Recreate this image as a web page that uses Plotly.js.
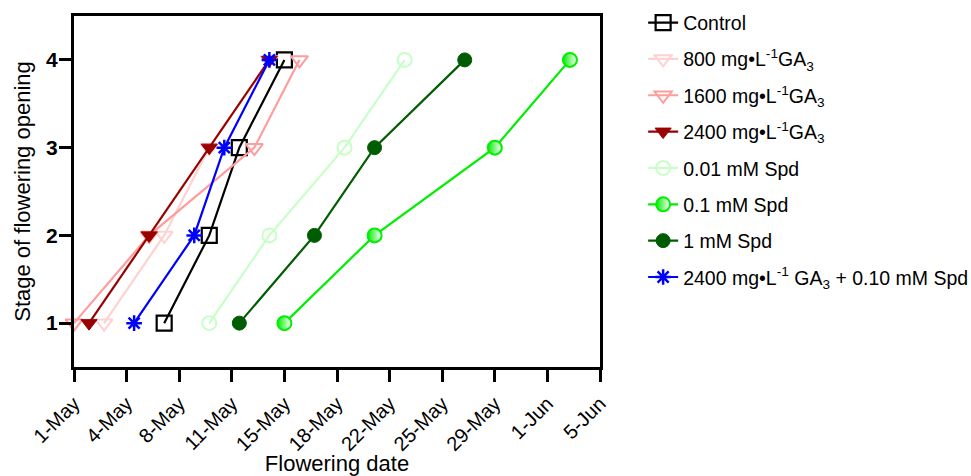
<!DOCTYPE html>
<html>
<head>
<meta charset="utf-8">
<script src="https://cdn.plot.ly/plotly-3.0.1.min.js"></script>
<style>html,body{margin:0;padding:0;background:#fff;}#chart{width:971px;height:476px;}</style>
</head>
<body>
<div id="chart"></div>
<script>
// Stage of flowering opening (y) and flowering date for each treatment
const stages = [1, 2, 3, 4];
const control     = ['2024-05-07', '2024-05-10', '2024-05-12', '2024-05-15'];
const ga800       = ['2024-05-03', '2024-05-07', '2024-05-10', '2024-05-14'];
const ga1600      = ['2024-05-01', '2024-05-06', '2024-05-13', '2024-05-16'];
const ga2400      = ['2024-05-02', '2024-05-06', '2024-05-10', '2024-05-14'];
const spd001      = ['2024-05-10', '2024-05-14', '2024-05-19', '2024-05-23'];
const spd01       = ['2024-05-15', '2024-05-21', '2024-05-29', '2024-06-03'];
const spd1        = ['2024-05-12', '2024-05-17', '2024-05-21', '2024-05-27'];
const gaSpd       = ['2024-05-05', '2024-05-09', '2024-05-11', '2024-05-14'];

const seriesNames = [
  'Control',
  '800 mg•L<sup>-1</sup>GA<sub>3</sub>',
  '1600 mg•L<sup>-1</sup>GA<sub>3</sub>',
  '2400 mg•L<sup>-1</sup>GA<sub>3</sub>',
  '0.01 mM Spd',
  '0.1 mM Spd',
  '1 mM Spd',
  '2400 mg•L<sup>-1</sup> GA<sub>3</sub> + 0.10 mM Spd'
];

const tickDates = ['2024-05-01', '2024-05-04 12:00', '2024-05-08', '2024-05-11 12:00', '2024-05-15',
  '2024-05-18 12:00', '2024-05-22', '2024-05-25 12:00', '2024-05-29', '2024-06-01 12:00', '2024-06-05'];
const tickLabels = ['1-May', '4-May', '8-May', '11-May', '15-May', '18-May', '22-May', '25-May', '29-May', '1-Jun', '5-Jun'];

function tr(i, x, color, symbol, size, lw, extra) {
  const m = Object.assign({symbol: symbol, size: size, color: color, line: {color: color, width: lw}}, extra || {});
  return {x: x, y: stages, name: seriesNames[i], legendgroup: 'g' + i, type: 'scatter', mode: 'lines+markers',
    line: {color: color, width: 2.2}, marker: m, cliponaxis: false};
}

const traces = [
  tr(0, control, '#000000', 'square-open', 15, 2.2),
  tr(1, ga800, '#FFD2D2', 'triangle-down-open', 15, 2),
  tr(2, ga1600, '#FF9C9C', 'triangle-down-open', 15, 2),
  tr(3, ga2400, '#990000', 'triangle-down', 14, 1),
  tr(4, spd001, '#C8FFC8', 'circle-open', 14, 2),
  tr(5, spd01, '#00EE00', 'circle', 14, 2, {gradient: {type: 'horizontal', color: '#FFFFFF'}}),
  tr(6, spd1, '#005C00', 'circle', 14, 1),
  tr(7, gaSpd, '#0000FF', 'asterisk-open', 13, 2.5)
];

const font = 'Arial, "Liberation Sans", sans-serif';
const layout = {
  width: 971, height: 476,
  margin: {l: 74, r: 371, t: 16, b: 109, autoexpand: false},
  paper_bgcolor: '#fff', plot_bgcolor: '#fff',
  font: {family: font, color: '#000'},
  showlegend: true,
  legend: {x: 1.082, xanchor: 'left', y: 1.036, yanchor: 'top', font: {family: font, size: 19.5, color: '#000'},
    tracegroupgap: 8, itemwidth: 30, bgcolor: 'rgba(0,0,0,0)', maxheight: 470},
  xaxis: {
    type: 'date', range: ['2024-05-01', '2024-06-05'], automargin: false,
    tickmode: 'array', tickvals: tickDates, ticktext: tickLabels, tickangle: -45,
    ticks: 'outside', ticklen: 12, tickwidth: 3, tickcolor: '#000', ticklabelstandoff: 2,
    showline: true, linewidth: 3, linecolor: '#000', mirror: true,
    showgrid: false, zeroline: false,
    tickfont: {family: font, size: 20, color: '#000'},
    title: {text: 'Flowering date', font: {family: font, size: 22, color: '#000'}, standoff: 0}
  },
  yaxis: {
    range: [0.5, 4.5], automargin: false, tickmode: 'array', tickvals: stages, ticktext: stages.map(String),
    ticks: 'outside', ticklen: 12, tickwidth: 3, tickcolor: '#000', ticklabelstandoff: -3,
    showline: true, linewidth: 3, linecolor: '#000', mirror: true,
    showgrid: false, zeroline: false,
    tickfont: {family: font, size: 21, color: '#000', weight: 'bold'},
    title: {text: 'Stage of flowering opening', font: {family: font, size: 22, color: '#000'}, standoff: 10}
  }
};

Plotly.newPlot('chart', traces, layout, {displayModeBar: false, staticPlot: true});
</script>
</body>
</html>
